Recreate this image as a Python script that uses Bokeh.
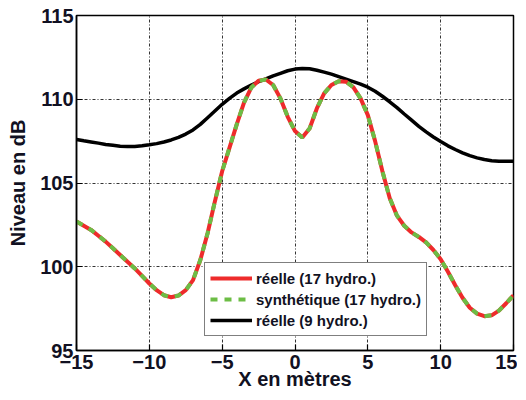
from bokeh.plotting import figure
from bokeh.models import Legend, LegendItem, FixedTicker, Range1d
from bokeh.embed import file_html
from bokeh.resources import INLINE

# ---- data ----
x_red = [-15, -14.5, -14, -13.5, -13, -12.5, -12, -11.5, -11, -10.5, -10, -9.5, -9, -8.5, -8,
         -7.5, -7, -6.5, -6, -5.5, -5, -4.5, -4, -3.5, -3, -2.5, -2, -1.5, -1, -0.5, 0,
         0.5, 1, 1.5, 2, 2.5, 3, 3.5, 4, 4.5, 5, 5.5, 6, 6.5, 7, 7.5, 8, 8.5, 9, 9.5, 10,
         10.5, 11, 11.5, 12, 12.5, 13, 13.5, 14, 14.5, 15]
y_reelle17 = [102.7, 102.45, 102.2, 101.85, 101.5, 101.1, 100.7, 100.3, 99.9, 99.45, 99.0, 98.6, 98.3, 98.18, 98.28,
              98.6, 99.2, 100.4, 102.0, 103.9, 105.7, 107.1, 108.5, 109.8, 110.7, 111.1, 111.18, 110.85, 110.05, 108.95, 108.1,
              107.72, 108.25, 109.45, 110.35, 110.85, 111.08, 111.05, 110.72, 110.05, 109.05, 107.5, 105.7, 104.1, 103.05, 102.45, 102.05, 101.78, 101.45, 101.0, 100.45,
              99.7, 98.9, 98.15, 97.55, 97.2, 97.05, 97.1, 97.38, 97.82, 98.3]
y_synth17 = list(y_reelle17)

x_black = list(x_red)
y_reelle9 = [107.6, 107.52, 107.45, 107.38, 107.3, 107.25, 107.2, 107.18, 107.18, 107.22, 107.28, 107.35, 107.45, 107.57, 107.72,
             107.92, 108.17, 108.5, 108.9, 109.3, 109.7, 110.05, 110.37, 110.62, 110.85, 111.05, 111.22, 111.4, 111.55, 111.7, 111.8,
             111.84, 111.82, 111.73, 111.62, 111.5, 111.35, 111.2, 111.05, 110.9, 110.72, 110.48, 110.18, 109.85, 109.5, 109.12, 108.75, 108.38, 108.05, 107.75, 107.48,
             107.22, 107.0, 106.8, 106.63, 106.5, 106.4, 106.33, 106.3, 106.3, 106.3]

x_ticks = [-15, -10, -5, 0, 5, 10, 15]
x_tick_labels = ["\u221215", "\u221210", "\u22125", "0", "5", "10", "15"]
y_ticks = [95, 100, 105, 110, 115]
y_tick_labels = ["95", "100", "105", "110", "115"]

labels = ["réelle (17 hydro.)", "synthétique (17 hydro.)", "réelle (9 hydro.)"]

FONT = "Liberation Sans"

p = figure(frame_width=437, frame_height=335, output_backend="svg", toolbar_location=None,
           x_range=Range1d(-15, 15), y_range=Range1d(95, 115),
           min_border_left=76, min_border_right=4, min_border_top=15, min_border_bottom=41)
p.background_fill_color = "white"
p.border_fill_color = "white"
p.outline_line_color = "black"
p.outline_line_width = 1.5

# grid
for g in (p.xgrid, p.ygrid):
    g.grid_line_color = "black"
    g.grid_line_dash = "3 2 1 2"
    g.grid_line_width = 1
    g.grid_line_alpha = 0.8
p.xgrid.ticker = FixedTicker(ticks=x_ticks)
p.ygrid.ticker = FixedTicker(ticks=y_ticks)

# axes
for ax in (p.xaxis[0], p.yaxis[0]):
    ax.major_tick_in = 6
    ax.major_tick_out = 0
    ax.minor_tick_line_color = None
    ax.axis_line_color = "black"
    ax.axis_line_width = 1.5
    ax.major_tick_line_color = "black"
    ax.major_tick_line_width = 1.2
    ax.major_label_text_font = FONT
    ax.major_label_text_font_style = "bold"
    ax.major_label_text_font_size = "20px"
    ax.major_label_text_color = "#111122"
    ax.axis_label_text_font = FONT
    ax.axis_label_text_font_style = "bold"
    ax.axis_label_text_font_size = "20px"
    ax.axis_label_text_color = "#111122"

p.xaxis[0].ticker = FixedTicker(ticks=x_ticks)
p.xaxis[0].major_label_overrides = {t: l for t, l in zip(x_ticks, x_tick_labels)}
p.yaxis[0].ticker = FixedTicker(ticks=y_ticks)
p.yaxis[0].major_label_overrides = {t: l for t, l in zip(y_ticks, y_tick_labels)}
p.xaxis[0].axis_label = "X en mètres"
p.yaxis[0].axis_label = "Niveau en dB"
p.xaxis[0].major_label_standoff = 4
p.yaxis[0].major_label_standoff = 3
p.xaxis[0].axis_label_standoff = -4
p.yaxis[0].axis_label_standoff = 8

# lines
r_black = p.line(x_black, y_reelle9, line_color="black", line_width=3.5)
r_red = p.line(x_red, y_reelle17, line_color="#ee2b2b", line_width=4)
r_green = p.line(x_red, y_synth17, line_color="#6cbd45", line_width=4, line_dash="7 7")

legend = Legend(items=[LegendItem(label=labels[0], renderers=[r_red]),
                       LegendItem(label=labels[1], renderers=[r_green]),
                       LegendItem(label=labels[2], renderers=[r_black])],
                location=(128, 14))
legend.label_text_font = FONT
legend.label_text_font_style = "bold"
legend.label_text_font_size = "15px"
legend.label_text_color = "#111122"
legend.glyph_width = 42
legend.glyph_height = 20
legend.label_height = 20
legend.label_standoff = 4
legend.spacing = 1
legend.padding = 5
legend.margin = 0
legend.border_line_color = "black"
legend.border_line_width = 1.5
legend.background_fill_alpha = 1
p.add_layout(legend, "center")

open("out.html", "w").write(file_html(p, INLINE))
